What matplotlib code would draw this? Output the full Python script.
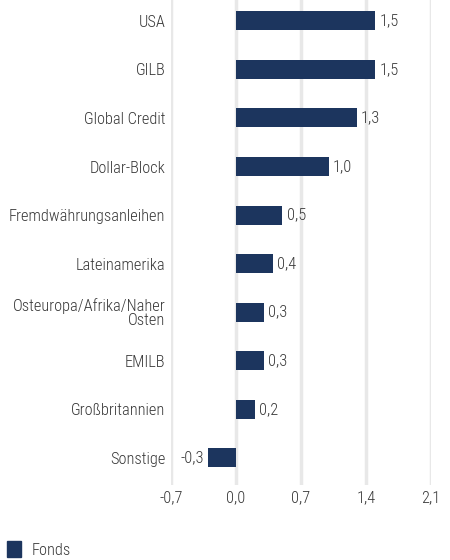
#!/usr/bin/env python3
"""Horizontal bar chart: fund contribution by region/segment."""

import matplotlib

matplotlib.use("Agg")
import matplotlib.pyplot as plt
from matplotlib.patches import Patch

plt.rcParams["font.family"] = ["Roboto Condensed", "DejaVu Sans"]
plt.rcParams["font.weight"] = "light"

categories = [
    "USA",
    "GILB",
    "Global Credit",
    "Dollar-Block",
    "Fremdwährungsanleihen",
    "Lateinamerika",
    "Osteuropa/Afrika/Naher\nOsten",
    "EMILB",
    "Großbritannien",
    "Sonstige",
]
values = [1.5, 1.5, 1.3, 1.0, 0.5, 0.4, 0.3, 0.3, 0.2, -0.3]
x_ticks = [-0.7, 0.0, 0.7, 1.4, 2.1]
series_name = "Fonds"

BAR = "#1c355e"
TEXT = "#383838"
GRID = "#e8e8e8"
FS = 11.8


def fmt(v):
    return f"{v:.1f}".replace(".", ",")


def main():
    fig = plt.figure(figsize=(4.5, 5.6), dpi=100)
    ax = fig.add_axes([0.38, 0.134, 0.578, 0.866])

    y = range(len(categories))
    ax.barh(y, values, height=0.39, color=BAR, zorder=3)

    # value labels next to the bar ends
    for yi, v in zip(y, values):
        if v >= 0:
            ax.text(v + 0.045, yi, fmt(v), va="center", ha="left",
                    fontsize=FS, color=TEXT)
        else:
            ax.text(v - 0.045, yi, fmt(v), va="center", ha="right",
                    fontsize=FS, color=TEXT)

    ax.set_xlim(x_ticks[0], x_ticks[-1])
    ax.set_ylim(len(categories) - 0.44, -0.43)
    ax.set_xticks(x_ticks)
    ax.set_xticklabels([fmt(t) for t in x_ticks], fontsize=FS, color=TEXT)
    ax.set_yticks(list(y))
    ax.set_yticklabels(categories, fontsize=FS, color=TEXT, linespacing=0.9)
    ax.tick_params(length=0)
    ax.tick_params(axis="x", pad=4)
    ax.tick_params(axis="y", pad=4)

    ax.grid(True, axis="x", color=GRID, linewidth=2.5, zorder=0)
    for s in ax.spines.values():
        s.set_visible(False)

    fig.legend(
        handles=[Patch(color=BAR, label=series_name)],
        loc="lower left",
        bbox_to_anchor=(-0.018, -0.022),
        frameon=False,
        fontsize=FS,
        handlelength=0.9,
        handleheight=1.2,
        handletextpad=0.6,
        labelcolor=TEXT,
    )

    fig.savefig("out.png", dpi=100)


if __name__ == "__main__":
    main()
